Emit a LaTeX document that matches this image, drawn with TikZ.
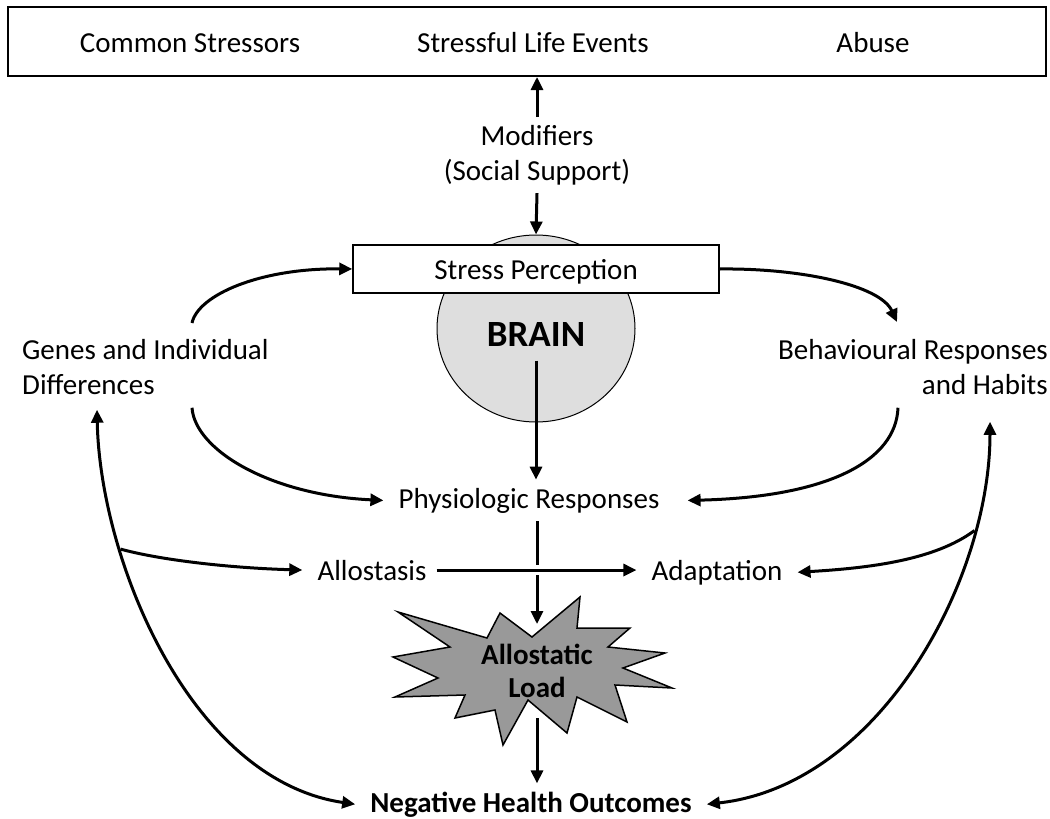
\documentclass[tikz,border=0pt]{standalone}
\usepackage{fontspec}
\setmainfont{Carlito}
\usetikzlibrary{arrows.meta,calc,shapes.geometric}

\tikzset{
    lbl/.style={inner xsep=15pt, inner ysep=8pt, font=\fontsize{29}{35}\selectfont},
    lblb/.style={lbl, font=\fontsize{29}{33}\selectfont\bfseries},
    arr/.style={line width=3pt, -{Triangle[length=13pt,width=12pt]}},
    darr/.style={line width=3pt, {Triangle[length=13pt,width=12pt]}-{Triangle[length=13pt,width=12pt]}},
}

\begin{document}
\begin{tikzpicture}[x=1pt, y=-1pt]
    \useasboundingbox (0,0) rectangle (1050,819);
    % stressors on top
    \node[draw, line width=2pt, minimum width=1038pt, minimum height=69pt, inner sep=0pt] (stressors) at (527,41.5) {};
    \node[lbl, anchor=base] (common) at (190,52) {Common Stressors};
    \node[lbl, anchor=base] (life) at (533,52) {Stressful Life Events};
    \node[lbl, anchor=base] (abuse) at (873,52) {Abuse};
    % modifiers
    \node[lbl, align=center, anchor=north] (mod) at (537,117) {Modifiers\\(Social Support)};
    \draw[arr] (mod.north) -- (stressors.south -| mod.north);
    % brain with stress perception on it
    \node[draw, ellipse, fill=black!13, line width=1pt, minimum width=198pt, minimum height=187pt, inner sep=0pt,
        font=\fontsize{37}{40}\selectfont\bfseries, text height=35pt] (brain) at (536,328.5) {BRAIN};
    \node[draw, fill=white, line width=1.5pt, minimum width=366pt, minimum height=48pt, inner sep=0pt,
        font=\fontsize{29}{35}\selectfont, text depth=0pt] (stress) at (536,269) {Stress Perception};
    \draw[arr] (mod.south) -- (brain.north);
    % side labels
    \node[lbl, align=left, anchor=north west, inner sep=0pt] (genes) at (22,339) {Genes and Individual\\Differences};
    \node[lbl, align=right, anchor=north east, inner sep=0pt] (habits) at (1048,339) {Behavioural Responses\\and Habits};
    % middle column
    \node[lbl, anchor=base] (phys) at (529,508) {Physiologic Responses};
    \node[lbl, anchor=base] (allo) at (372,580) {Allostasis};
    \node[lbl, anchor=base] (adapt) at (717,580) {Adaptation};
    \node[lblb, anchor=base] (nho) at (531,812) {Negative Health Outcomes};
    % allostatic load star
    \filldraw[fill=black!40, line width=1.5pt, line join=miter] (398,612) -- (487,638) -- (500,613) -- (532,637)
        -- (580,597) -- (577,628) -- (630,628) -- (608,647) -- (665,653) -- (623,668) -- (672,688)
        -- (615,685) -- (627,722) -- (577,697) -- (567,733) -- (528,700) -- (503,745) -- (495,710)
        -- (455,718) -- (465,695) -- (395,697) -- (438,678) -- (393,657) -- (450,647) -- cycle;
    \node[lblb, align=center, inner ysep=20pt] (load) at (537,671) {Allostatic\\Load};
    % down the middle
    \draw[arr] ($(brain.center)+(0,32)$) -- (brain.center |- phys.north);
    \draw[arr] (load.north |- phys.south) -- (load.north);
    \draw[arr, preaction={draw=white, line width=10pt, arrows=-}, shorten <=-5pt] (allo.east) -- (adapt.west |- allo.east);
    \draw[arr] (load.south) -- (load.south |- nho.north);
    % loops round the brain
    \draw[arr] ($(genes.north west)+(170,-16)$) .. controls (198,295) and (260,268) .. (stress.west);
    \draw[arr] ($(genes.south west)+(170,13)$) .. controls (195,450) and (270,495) .. (phys.west);
    \draw[arr] (stress.east) .. controls (800,268) and (880,285) .. ($(habits.north east)+(-151,-17)$);
    \draw[arr] ($(habits.south east)+(-150,13)$) .. controls (896,460) and (830,497) .. ($(phys.east)+(13,0)$);
    % outer arcs to the outcomes
    \draw[darr] ($(genes.south west)+(75,15)$) .. controls (100,560) and (190,780) .. (nho.west)
        coordinate[pos=0.285] (lb);
    \draw[darr] ($(habits.south east)+(-58,27)$) .. controls (990,580) and (880,785) .. (nho.east)
        coordinate[pos=0.22] (rb);
    \draw[arr] (lb) .. controls (160,560) and (230,568) .. (allo.west);
    \draw[arr] (rb) .. controls (935,560) and (870,568) .. (adapt.east);
\end{tikzpicture}
\end{document}
